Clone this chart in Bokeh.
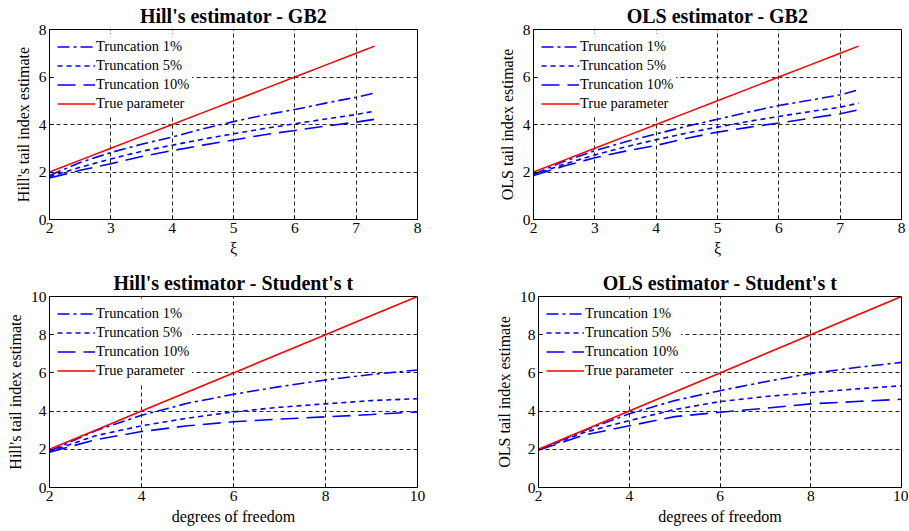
from bokeh.plotting import figure
from bokeh.layouts import column, row
from bokeh.models import Range1d, FixedTicker, Legend, LegendItem
from bokeh.embed import file_html
from bokeh.resources import INLINE

# ---------------- data ----------------
gb2_x = [2, 2.5, 3, 3.5, 4, 4.5, 5, 5.5, 6, 6.5, 7, 7.3]
gb2_true = [2, 2.5, 3, 3.5, 4, 4.5, 5, 5.5, 6, 6.5, 7, 7.3]
hill_gb2_t1 = [1.85, 2.4, 2.82, 3.17, 3.47, 3.82, 4.12, 4.4, 4.63, 4.9, 5.15, 5.32]
hill_gb2_t5 = [1.8, 2.2, 2.55, 2.87, 3.13, 3.38, 3.61, 3.83, 4.03, 4.23, 4.42, 4.56]
hill_gb2_t10 = [1.75, 2.07, 2.35, 2.65, 2.9, 3.13, 3.35, 3.57, 3.75, 3.93, 4.1, 4.22]
ols_gb2_t1 = [1.9, 2.45, 2.9, 3.27, 3.6, 3.93, 4.22, 4.52, 4.8, 5.02, 5.25, 5.46]
ols_gb2_t5 = [1.87, 2.33, 2.72, 3.06, 3.36, 3.64, 3.89, 4.13, 4.34, 4.54, 4.73, 4.9]
ols_gb2_t10 = [1.85, 2.25, 2.6, 2.88, 3.12, 3.42, 3.68, 3.88, 4.06, 4.26, 4.45, 4.62]

t_x = [2, 3, 4, 5, 6, 7, 8, 9, 10]
t_true = [2, 3, 4, 5, 6, 7, 8, 9, 10]
hill_t_t1 = [1.9, 2.97, 3.78, 4.41, 4.88, 5.28, 5.63, 5.92, 6.15]
hill_t_t5 = [1.88, 2.71, 3.23, 3.63, 3.96, 4.2, 4.38, 4.55, 4.65]
hill_t_t10 = [1.85, 2.5, 2.93, 3.23, 3.44, 3.58, 3.7, 3.82, 3.96]
ols_t_t1 = [1.98, 2.97, 3.86, 4.55, 5.07, 5.54, 5.97, 6.28, 6.55]
ols_t_t5 = [1.97, 2.88, 3.5, 4.08, 4.5, 4.76, 4.97, 5.16, 5.33]
ols_t_t10 = [1.96, 2.74, 3.23, 3.71, 3.94, 4.15, 4.38, 4.5, 4.62]

gb2_xticks = [2, 3, 4, 5, 6, 7, 8]
gb2_yticks = [0, 2, 4, 6, 8]
t_xticks = [2, 4, 6, 8, 10]
t_yticks = [0, 2, 4, 6, 8, 10]

series_labels = ["Truncation 1%", "Truncation 5%", "Truncation 10%", "True parameter"]

FONT = "Liberation Serif"


def make(title, ylabel, xlabel, x, s1, s5, s10, tr, xr, yr, xt, yt,
         w, h, bl, br, bt, bb):
    p = figure(width=w, height=h, output_backend="svg", toolbar_location=None,
               x_range=Range1d(*xr), y_range=Range1d(*yr),
               min_border_left=bl, min_border_right=br,
               min_border_top=bt, min_border_bottom=bb)
    p.title.text = title
    p.title.text_font = FONT
    p.title.text_font_size = "20px"
    p.title.text_font_style = "bold"
    p.title.align = "center"
    p.title.text_color = "black"
    p.title.standoff = 5

    p.xaxis.ticker = FixedTicker(ticks=xt)
    p.yaxis.ticker = FixedTicker(ticks=yt)
    for ax in (p.xaxis[0], p.yaxis[0]):
        ax.major_label_text_font = FONT
        ax.major_label_text_font_size = "15.5px"
        ax.major_label_text_color = "black"
        ax.axis_label_text_font = FONT
        ax.axis_label_text_font_size = "16px"
        ax.axis_label_text_font_style = "normal"
        ax.axis_label_text_color = "black"
        ax.axis_line_color = "black"
        ax.major_tick_in = 4
        ax.major_tick_out = 0
        ax.minor_tick_line_color = None
        ax.major_tick_line_color = "black"
        ax.major_label_standoff = 3
        ax.axis_label_standoff = 4
    p.xaxis.axis_label = xlabel
    p.yaxis.axis_label = ylabel

    for g in (p.xgrid[0], p.ygrid[0]):
        g.grid_line_color = "black"
        g.grid_line_dash = "4 3"
        g.grid_line_width = 1
        g.grid_line_alpha = 0.85

    p.outline_line_color = "black"
    p.outline_line_width = 1
    p.outline_line_alpha = 1
    p.background_fill_color = "white"
    p.border_fill_color = "white"

    r1 = p.line(x, s1, line_color="#0000ff", line_width=1.6, line_dash="12 4 3 4")
    r5 = p.line(x, s5, line_color="#0000ff", line_width=1.6, line_dash="5 4")
    r10 = p.line(x, s10, line_color="#0000ff", line_width=1.6, line_dash="18 8")
    rt = p.line(x, tr, line_color="#ff0000", line_width=1.6)

    items = [LegendItem(label=lab, renderers=[r]) for lab, r in
             zip(series_labels, [r1, r5, r10, rt])]
    leg = Legend(items=items, location="top_left", margin=5, padding=3,
                 spacing=0, label_height=19, glyph_height=19, glyph_width=38,
                 label_standoff=1, label_text_font=FONT,
                 label_text_font_size="14.5px", label_text_color="black",
                 background_fill_color="white", background_fill_alpha=1,
                 border_line_alpha=0)
    p.add_layout(leg)
    return p


p1 = make("Hill's estimator - GB2", "Hill's tail index estimate", "ξ",
          gb2_x, hill_gb2_t1, hill_gb2_t5, hill_gb2_t10, gb2_true,
          (2, 8), (0, 8), gb2_xticks, gb2_yticks, 492, 265, 49, 75, 29, 46)
p2 = make("OLS estimator - GB2", "OLS tail index estimate", "ξ",
          gb2_x, ols_gb2_t1, ols_gb2_t5, ols_gb2_t10, gb2_true,
          (2, 8), (0, 8), gb2_xticks, gb2_yticks, 416, 265, 41, 7, 29, 46)
p3 = make("Hill's estimator - Student's t", "Hill's tail index estimate",
          "degrees of freedom",
          t_x, hill_t_t1, hill_t_t5, hill_t_t10, t_true,
          (2, 10), (0, 10), t_xticks, t_yticks, 492, 262, 49, 75, 31, 39)
p4 = make("OLS estimator - Student's t", "OLS tail index estimate",
          "degrees of freedom",
          t_x, ols_t_t1, ols_t_t5, ols_t_t10, t_true,
          (2, 10), (0, 10), t_xticks, t_yticks, 416, 262, 41, 7, 31, 39)

layout = column(row(p1, p2), row(p3, p4))
open("out.html", "w").write(file_html(layout, INLINE))
